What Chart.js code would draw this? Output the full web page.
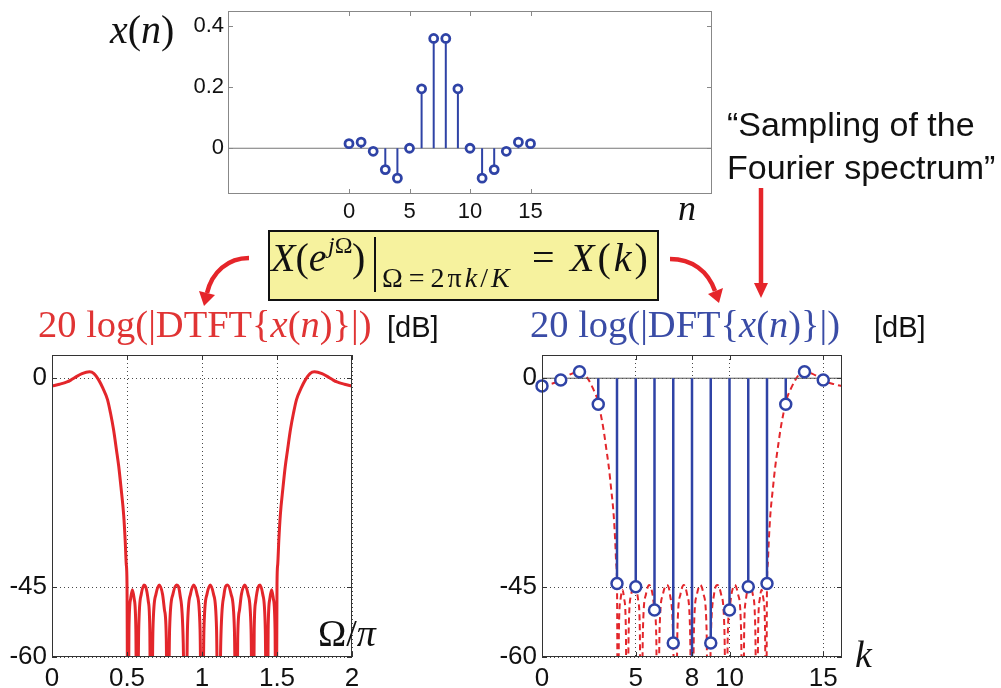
<!DOCTYPE html>
<html>
<head>
<meta charset="utf-8">
<script src="https://cdn.jsdelivr.net/npm/chart.js@4.4.1/dist/chart.umd.min.js"></script>
<style>
  body { margin: 0; width: 1001px; height: 688px; background: #fff; position: relative; overflow: hidden; }
  canvas, svg { position: absolute; }
  .t { position: absolute; white-space: nowrap; line-height: 1; }
  .m { font-family: 'Liberation Serif', 'DejaVu Serif', serif; }
  .s { font-family: 'Liberation Sans', Arial, sans-serif; }
  #box { position: absolute; left: 268px; top: 230px; width: 387px; height: 67px; background: #f6f29e; border: 2px solid #111; }
  #bar { position: absolute; left: 374px; top: 237px; width: 2px; height: 55px; background: #111; }
</style>
</head>
<body>
<div id="box"></div>
<div id="bar"></div>
<canvas id="sig" width="600" height="230" style="left:150px;top:0px"></canvas>
<canvas id="dtft" width="380" height="343" style="left:0px;top:345px"></canvas>
<canvas id="dft" width="380" height="343" style="left:490px;top:345px"></canvas>
<svg width="1001" height="688" style="left:0;top:0">
  <g fill="none" stroke="#e5252a" stroke-width="4.5">
    <path d="M249,258 C228,258 212,272 207,293"/>
    <path d="M670,259 C692,259 708,271 715,291"/>
    <path d="M761,188 L761,285"/>
  </g>
  <g fill="#e5252a">
    <polygon points="204,306 199,291 215,295"/>
    <polygon points="719,303 708,294 723,288"/>
    <polygon points="761,298 754,283 768,283"/>
  </g>
</svg>
<div id="labels"></div>

<script>
// x(n), n = 0..15
const nIdx = [0, 1, 2, 3, 4, 5, 6, 7, 8, 9, 10, 11, 12, 13, 14, 15];
const xn = [0.015, 0.02, -0.01, -0.07, -0.098, 0, 0.195, 0.36, 0.36, 0.195, 0, -0.098, -0.07, -0.01, 0.02, 0.015];

// DFT magnitude in dB, k = 0..15 (k = 8 falls on a zero of the spectrum)
const K = 16;
const kIdx = [0, 1, 2, 3, 4, 5, 6, 7, 8, 9, 10, 11, 12, 13, 14, 15];
const dftDb = [-1.65, -0.4, 1.4, -5.6, -44.2, -44.9, -49.9, -57, -100, -57, -49.9, -44.9, -44.2, -5.6, 1.4, -0.4];

// DTFT magnitude in dB over Omega/pi
const omega = [
  0, 0.05, 0.1, 0.125, 0.15, 0.2, 0.25, 0.28, 0.31, 0.34, 0.37, 0.39, 0.41, 0.43, 0.445, 0.46, 0.478, 0.488, 0.495, 0.5,
  0.506, 0.513, 0.524, 0.536, 0.548, 0.559, 0.567,
  0.578, 0.595, 0.613, 0.625, 0.642, 0.652, 0.66,
  0.673, 0.693, 0.715, 0.737, 0.75, 0.762, 0.77,
  0.784, 0.806, 0.83, 0.853, 0.875, 0.89,
  0.903, 0.923, 0.945, 0.967, 0.987, 1.0,
  1.013, 1.033, 1.055, 1.077, 1.097, 1.11,
  1.125, 1.147, 1.17, 1.194, 1.216, 1.23,
  1.238, 1.25, 1.263, 1.285, 1.307, 1.327, 1.34,
  1.348, 1.358, 1.375, 1.387, 1.405, 1.422, 1.433,
  1.441, 1.452, 1.464, 1.476, 1.487, 1.494,
  1.5, 1.505, 1.512, 1.522, 1.54, 1.555, 1.57, 1.59, 1.61, 1.63, 1.66, 1.69, 1.72, 1.75, 1.8, 1.85, 1.875, 1.9, 1.95, 2.0
];
const dtftDb = [
  -1.7, -1.3, -0.8, -0.4, 0.1, 1.0, 1.4, 1.0, -0.3, -2.2, -4.6, -7.5, -11, -15.5, -19, -23.5, -29.5, -35, -40, -44.2,
  -90, -54, -47.5, -45.5, -47.5, -54, -90,
  -54, -46.5, -44.5, -44.9, -48, -54, -90,
  -54, -46.5, -44.5, -46.5, -49.9, -56, -90,
  -54, -46.5, -44.5, -46.5, -57, -90,
  -54, -46.5, -44.5, -46.5, -54, -90,
  -54, -46.5, -44.5, -46.5, -54, -90,
  -57, -46.5, -44.5, -46.5, -54, -90,
  -56, -49.9, -46.5, -44.5, -46.5, -54, -90,
  -54, -48, -44.9, -44.5, -46.5, -54, -90,
  -54, -47.5, -45.5, -47.5, -54, -90,
  -44.2, -40, -35, -29.5, -23.5, -19, -15.5, -11, -7.5, -4.6, -2.2, -0.3, 1.0, 1.4, 1.0, 0.1, -0.4, -0.8, -1.3, -1.7
];

// tick positions
const nTicks = [0, 5, 10, 15];
const xnTicks = [0, 0.2, 0.4];
const omegaTicks = [0, 0.5, 1, 1.5, 2];
const kTicks = [0, 5, 8, 10, 15];
const dbTicks = [-60, -45, 0];

const RED = '#e3262b';
const BLUE = '#2f43a6';

Chart.defaults.font.family = "'Liberation Sans', Arial, sans-serif";
Chart.defaults.color = '#111';

// axes box with inward ticks on all four sides
const frame = {
  id: 'frame',
  afterDatasetsDraw(chart, args, opts) {
    const { ctx, chartArea: a, scales: { x, y } } = chart;
    ctx.save();
    ctx.strokeStyle = opts.color;
    ctx.lineWidth = 1;
    ctx.strokeRect(Math.round(a.left) + 0.5, Math.round(a.top) + 0.5,
      Math.round(a.right - a.left) - 1, Math.round(a.bottom - a.top) - 1);
    ctx.beginPath();
    x.ticks.forEach(t => {
      const px = Math.round(x.getPixelForValue(t.value)) + 0.5;
      ctx.moveTo(px, a.bottom); ctx.lineTo(px, a.bottom - 5);
      ctx.moveTo(px, a.top); ctx.lineTo(px, a.top + 5);
    });
    y.ticks.forEach(t => {
      const py = Math.round(y.getPixelForValue(t.value)) + 0.5;
      ctx.moveTo(a.left, py); ctx.lineTo(a.left + 5, py);
      ctx.moveTo(a.right, py); ctx.lineTo(a.right - 5, py);
    });
    ctx.stroke();
    ctx.restore();
  }
};

function stems(xs, ys) {
  const pts = [];
  xs.forEach((x, i) => { pts.push({ x, y: 0 }, { x, y: ys[i] }, { x, y: null }); });
  return pts;
}

// fixed-size axis so the plot box lands where it should
function scale(min, max, ticks, size, pad, fontSize, grid) {
  return {
    type: 'linear', min, max,
    afterBuildTicks: s => { s.ticks = ticks.map(v => ({ value: v })); },
    afterFit: s => {
      if (s.isHorizontal()) s.height = size; else s.width = size;
      s.paddingTop = s.paddingBottom = s.paddingLeft = s.paddingRight = 0;
    },
    ticks: { autoSkip: false, maxRotation: 0, padding: pad, font: { size: fontSize }, callback: v => String(v) },
    grid: grid ? { display: true, drawTicks: false, color: 'rgba(40,40,40,0.85)', lineWidth: 1 } : { display: false, drawTicks: false },
    border: { display: false, dash: [1, 3] }
  };
}

const common = {
  responsive: false,
  animation: false,
  devicePixelRatio: 1,
  plugins: { legend: { display: false }, tooltip: { enabled: false } }
};

// x(n) stem plot
new Chart(document.getElementById('sig'), {
  type: 'line',
  data: {
    datasets: [
      {
        data: nIdx.map((n, i) => ({ x: n, y: xn[i] })),
        showLine: false, pointRadius: 4, pointBorderWidth: 2.8,
        pointBorderColor: BLUE, pointBackgroundColor: '#fff'
      },
      {
        data: stems(nIdx, xn), borderColor: BLUE, borderWidth: 2, pointRadius: 0, spanGaps: false
      },
      {
        data: [{ x: -10, y: 0 }, { x: 30, y: 0 }], borderColor: '#777', borderWidth: 1, pointRadius: 0
      }
    ]
  },
  options: {
    ...common,
    layout: { padding: { top: 11, right: 38, left: 0, bottom: 0 } },
    scales: {
      x: scale(-10, 30, nTicks, 36, 5, 22, false),
      y: scale(-0.15, 0.45, xnTicks, 78, 4, 22, false)
    },
    plugins: { ...common.plugins, frame: { color: '#888' } }
  },
  plugins: [frame]
});

// 20 log |DTFT|
new Chart(document.getElementById('dtft'), {
  type: 'line',
  data: {
    datasets: [{
      data: omega.map((w, i) => ({ x: w, y: dtftDb[i] })),
      borderColor: RED, borderWidth: 3, pointRadius: 0,
      cubicInterpolationMode: 'monotone'
    }]
  },
  options: {
    ...common,
    layout: { padding: { top: 10, right: 28, left: 0, bottom: 0 } },
    scales: {
      x: scale(0, 2, omegaTicks, 31, 6, 26, true),
      y: scale(-60, 5, dbTicks, 52, 5, 26, true)
    },
    plugins: { ...common.plugins, frame: { color: '#333' } }
  },
  plugins: [frame]
});

// 20 log |DFT| with the DTFT sampled at Omega = 2*pi*k/K
new Chart(document.getElementById('dft'), {
  type: 'line',
  data: {
    datasets: [
      {
        data: kIdx.map((k, i) => ({ x: k, y: dftDb[i] })),
        showLine: false, pointRadius: 5.5, pointBorderWidth: 2.5,
        pointBorderColor: BLUE, pointBackgroundColor: '#fff',
        clip: { left: 10, top: 10, right: 10, bottom: 0 }
      },
      {
        data: stems(kIdx, dftDb), borderColor: BLUE, borderWidth: 2.5, pointRadius: 0, spanGaps: false
      },
      {
        data: [{ x: 0, y: 0 }, { x: K, y: 0 }], borderColor: '#555', borderWidth: 1, pointRadius: 0
      },
      {
        data: omega.map((w, i) => ({ x: w * K / 2, y: dtftDb[i] })),
        borderColor: RED, borderWidth: 2, borderDash: [6, 4], pointRadius: 0,
        cubicInterpolationMode: 'monotone'
      }
    ]
  },
  options: {
    ...common,
    layout: { padding: { top: 10, right: 28, left: 0, bottom: 0 } },
    scales: {
      x: scale(0, K, kTicks, 31, 6, 26, true),
      y: scale(-60, 5, dbTicks, 52, 5, 26, true)
    },
    plugins: { ...common.plugins, frame: { color: '#333' } }
  },
  plugins: [frame]
});

// text annotations: [html, left, baseline, size, class, colour, extra style]
const labels = [
  ['<i>x</i>(<i>n</i>)', 110, 44, 40, 'm', '#111'],
  ['<i>n</i>', 678, 220, 36, 'm', '#111'],
  ['\u201cSampling of the', 727, 136, 34, 's', '#111'],
  ['Fourier spectrum\u201d', 727, 179, 34, 's', '#111'],
  ['<i>X</i>(<i>e</i>', 271, 272, 40, 'm', '#111'],
  ['<i>j</i>\u03a9', 328, 253, 24, 'm', '#111'],
  [')', 352, 272, 40, 'm', '#111'],
  ['\u03a9<span style="margin:0 3px">=</span>2\u03c0<i>k</i>/<i>K</i>', 382, 288, 28, 'm', '#111', 'letter-spacing:3px'],
  ['=', 532, 272, 40, 'm', '#111'],
  ['<i>X</i>(<i>k</i>)', 570, 272, 40, 'm', '#111', 'letter-spacing:3px'],
  ['20 log(|DTFT{<i>x</i>(<i>n</i>)}|)', 38, 337, 38.5, 'm', '#e03434'],
  ['[dB]', 387, 337, 29, 's', '#111'],
  ['20 log(|DFT{<i>x</i>(<i>n</i>)}|)', 530, 337, 38.5, 'm', '#3a4ca6'],
  ['[dB]', 874, 337, 29, 's', '#111'],
  ['\u03a9/<i>\u03c0</i>', 318, 646, 38, 'm', '#111'],
  ['<i>k</i>', 855, 667, 38, 'm', '#111']
];
const host = document.getElementById('labels');
labels.forEach(([html, x, base, size, cls, color, extra]) => {
  const el = document.createElement('div');
  el.className = 't ' + cls;
  el.innerHTML = html;
  el.style.cssText = (extra || '') + ';left:' + x + 'px;top:' + (base - 0.84 * size) + 'px;font-size:' + size + 'px;color:' + color;
  host.appendChild(el);
});
</script>
</body>
</html>
